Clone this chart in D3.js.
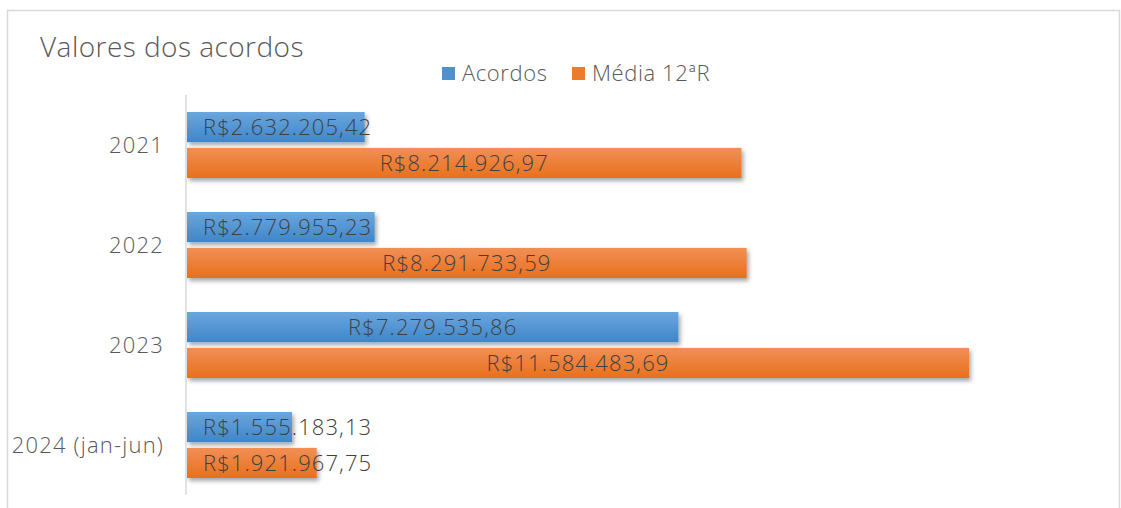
<!DOCTYPE html>
<html>
<head>
<meta charset="utf-8">
<script src="https://cdn.jsdelivr.net/npm/d3@7"></script>
<style>
  body { margin: 0; background: #fff; }
  text { font-family: "Open Sans", "Noto Sans", sans-serif; }
</style>
</head>
<body>
<svg id="chart" width="1121" height="508"></svg>
<script>
const categories = ["2021", "2022", "2023", "2024 (jan-jun)"]
const acordos = [2632205.42, 2779955.23, 7279535.86, 1555183.13]
const media12R = [8214926.97, 8291733.59, 11584483.69, 1921967.75]
const seriesNames = ["Acordos", "Média 12ªR"]

const plotLeft = 187
const plotTop = 95
const plotBottom = 495

const svg = d3.select("#chart")

// gradients + shadow
const defs = svg.append("defs")
const grads = [
  { id: "gBlue", top: "#6aa6de", bottom: "#3f86c9" },
  { id: "gOrange", top: "#f28f55", bottom: "#e8701c" }
]
grads.forEach(g => {
  const lg = defs.append("linearGradient").attr("id", g.id).attr("x1", 0).attr("y1", 0).attr("x2", 0).attr("y2", 1)
  lg.append("stop").attr("offset", "0%").attr("stop-color", g.top)
  lg.append("stop").attr("offset", "100%").attr("stop-color", g.bottom)
})
const f = defs.append("filter").attr("id", "shadow").attr("x", "-5%").attr("y", "-30%").attr("width", "115%").attr("height", "170%")
f.append("feDropShadow").attr("dx", 2).attr("dy", 3).attr("stdDeviation", 2).attr("flood-color", "#000").attr("flood-opacity", 0.35)

// outer border
svg.append("rect")
  .attr("x", 7.5).attr("y", 10.5).attr("width", 1112).attr("height", 520)
  .attr("fill", "none").attr("stroke", "#d9d9d9").attr("stroke-width", 1.5)

svg.append("text")
  .attr("x", 40).attr("y", 57)
  .attr("font-size", 28).attr("font-weight", 300).attr("letter-spacing", 0.45).attr("fill", "#595959")
  .text("Valores dos acordos")

// legend
const legendColors = ["#4f91d0", "#ee7a2c"]
const legendX = [442, 572]
seriesNames.forEach((name, i) => {
  svg.append("rect").attr("x", legendX[i]).attr("y", 67).attr("width", 13).attr("height", 13).attr("fill", legendColors[i])
  svg.append("text").attr("x", legendX[i] + 20).attr("y", 81)
    .attr("font-size", 22).attr("font-weight", 300).attr("letter-spacing", 0.6)
    .attr("fill", "#595959").text(name)
})

const x = d3.scaleLinear().domain([0, 11584483.69]).range([plotLeft, 969])
const y = d3.scaleBand().domain(categories).range([plotTop, plotBottom]).paddingInner(0.34).paddingOuter(0.17)
const sub = d3.scaleBand().domain([0, 1]).range([0, y.bandwidth()]).paddingInner(0.16)

const fmt = v => "R$" + d3.format(",.2f")(v).replace(/,/g, "#").replace(".", ",").replace(/#/g, ".")

const series = [
  { values: acordos, fill: "url(#gBlue)" },
  { values: media12R, fill: "url(#gOrange)" }
]

series.forEach((s, si) => {
  svg.append("g").selectAll("rect")
    .data(categories)
    .join("rect")
    .attr("x", plotLeft)
    .attr("y", (d) => y(d) + sub(si))
    .attr("width", (d, i) => x(s.values[i]) - plotLeft)
    .attr("height", sub.bandwidth())
    .attr("fill", s.fill)
    .attr("filter", "url(#shadow)")
})

series.forEach((s, si) => {
  svg.append("g").selectAll("text")
    .data(categories)
    .join("text")
    .attr("y", (d) => y(d) + sub(si) + sub.bandwidth() / 2 + 8)
    .attr("text-anchor", "middle")
    .attr("font-size", 22)
    .attr("font-weight", 300)
    .attr("letter-spacing", 1.1)
    .attr("fill", "#404040")
    .text((d, i) => fmt(s.values[i]))
    .attr("x", function (d, i) {
      const w = this.getComputedTextLength()
      return Math.max((plotLeft + x(s.values[i])) / 2, plotLeft + 16 + w / 2)
    })
})

// category axis
svg.append("line")
  .attr("x1", 186).attr("x2", 186).attr("y1", plotTop).attr("y2", plotBottom)
  .attr("stroke", "#d9d9d9").attr("stroke-width", 1.5)

svg.append("g").selectAll("text")
  .data(categories)
  .join("text")
  .attr("x", 164)
  .attr("y", d => y(d) + y.bandwidth() / 2 + 8)
  .attr("text-anchor", "end")
  .attr("font-size", 22)
  .attr("font-weight", 300)
  .attr("letter-spacing", 1.2)
  .attr("fill", "#595959")
  .text(d => d)
</script>
</body>
</html>
